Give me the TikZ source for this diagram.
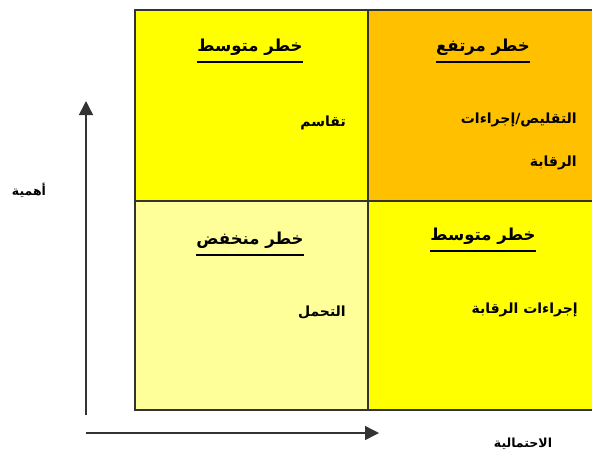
\documentclass[tikz,border=0pt]{standalone}
\usepackage{fontspec}
\newfontfamily\arabicfont[Script=Arabic]{DejaVu Sans}
\TeXXeTstate=1
\usetikzlibrary{arrows.meta}
\definecolor{cyel}{HTML}{FFFF00}
\definecolor{corg}{HTML}{FFC000}
\definecolor{clyel}{HTML}{FFFF99}
\definecolor{cline}{HTML}{333333}
\tikzset{
  cell/.style={draw=cline, line width=1.8pt, minimum width=233pt, inner sep=0pt, anchor=north west},
  title/.style={font=\arabicfont\bfseries\fontsize{16.5}{18}\selectfont, inner sep=0pt, anchor=base},
  body/.style={font=\arabicfont\bfseries\fontsize{14}{16}\selectfont, inner sep=0pt, anchor=base east},
  axlab/.style={font=\arabicfont\bfseries\fontsize{12.5}{14}\selectfont, inner sep=0pt},
  uline/.style={line width=1.6pt, black},
  arr/.style={draw=cline, line width=1.4pt, -{Triangle[length=14pt,width=14pt]}}
}
\begin{document}
\begin{tikzpicture}[x=1pt,y=-1pt]
\useasboundingbox (0,0) rectangle (592,459);
% cells
\node[cell, fill=cyel,  minimum height=191pt] (tl) at (134,9) {};
\node[cell, fill=corg,  minimum height=191pt] (tr) at (367,9) {};
\node[cell, fill=clyel, minimum height=209pt] (bl) at (134,200) {};
\node[cell, fill=cyel,  minimum height=209pt] (br) at (367,200) {};
% titles
\node[title] (t1) at (250,51) {\beginR خطر متوسط\endR};
\node[title] (t2) at (483,51) {\beginR خطر مرتفع\endR};
\node[title] (t3) at (250,244) {\beginR خطر منخفض\endR};
\node[title] (t4) at (483,240) {\beginR خطر متوسط\endR};
\foreach \t in {t1,t2,t3,t4}{
  \draw[uline] ([yshift=-7pt]\t.south west) -- ([yshift=-7pt]\t.south east);
}
% body texts
\node[body] (b1) at (346,126) {\beginR تقاسم\endR};
\node[body] (b2) at (577,123) {\beginR التقليص/إجراءات\endR};
\node[body] (b2b) at (577,166) {\beginR الرقابة\endR};
\node[body] (b3) at (346,316) {\beginR التحمل\endR};
\node[body] (b4) at (578,313) {\beginR إجراءات الرقابة\endR};
% axes
\coordinate (vb) at (86,415);
\coordinate (vt) at (86,101);
\coordinate (hl) at (86,433);
\coordinate (hr) at (379,433);
\draw[arr] (vb) -- (vt);
\draw[arr] (hl) -- (hr);
\node[axlab] (ly) at (29,190) {\beginR أهمية\endR};
\node[axlab] (lx) at (523,444) {\beginR الاحتمالية\endR};
\end{tikzpicture}
\end{document}
